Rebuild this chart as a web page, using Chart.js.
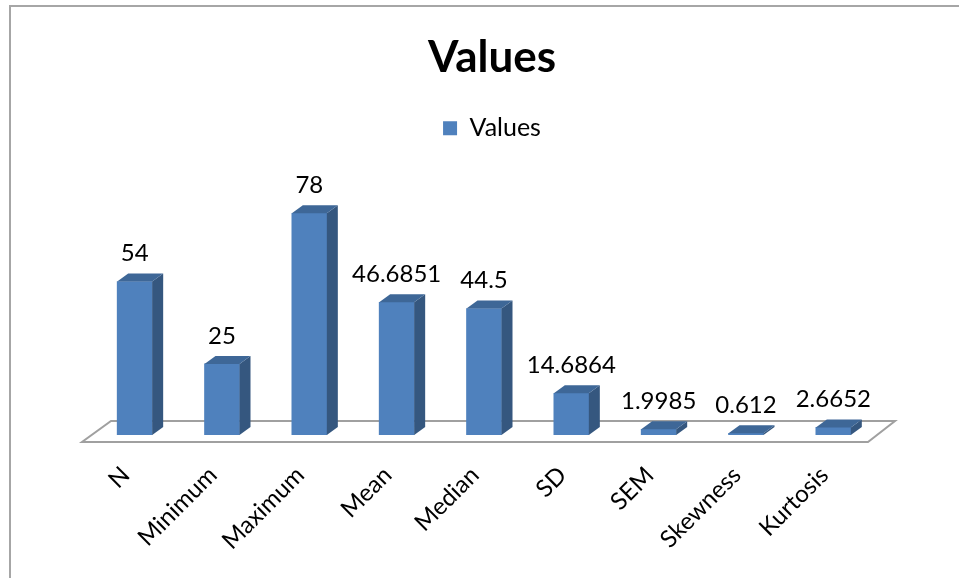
<!DOCTYPE html>
<html>
<head>
<meta charset="utf-8">
<title>Values</title>
<script src="https://cdn.jsdelivr.net/npm/chart.js@4.4.1/dist/chart.umd.min.js"></script>
<style>
  html, body { margin: 0; padding: 0; background: #fff; }
  #wrap { position: relative; width: 959px; height: 578px; }
</style>
</head>
<body>
<div id="wrap"><canvas id="chart"></canvas></div>
<script>
const categories = ["N", "Minimum", "Maximum", "Mean", "Median", "SD", "SEM", "Skewness", "Kurtosis"];
const values = [54, 25, 78, 46.6851, 44.5, 14.6864, 1.9985, 0.612, 2.6652];
const seriesName = "Values";

const FRONT = "#4f81bd";
const SIDE = "#35577f";
const TOP = "#3e6797";
const DX = 11;
const DY = 8;

// outer frame (left and top edge only show in the picture)
const frame = {
  id: "frame",
  beforeDraw(chart) {
    const c = chart.ctx;
    c.save();
    c.strokeStyle = "#a6a6a6";
    c.lineWidth = 2;
    c.beginPath();
    c.moveTo(10, 578);
    c.lineTo(10, 6);
    c.lineTo(959, 6);
    c.stroke();
    c.restore();
  },
};

// floor of the 3d plot
const floor = {
  id: "floor",
  beforeDatasetsDraw(chart) {
    const c = chart.ctx;
    const a = chart.chartArea;
    const base = chart.scales.y.getPixelForValue(0);
    c.save();
    c.strokeStyle = "#a0a0a0";
    c.lineWidth = 2;
    c.fillStyle = "#fff";
    c.beginPath();
    c.moveTo(a.left - 9, base + 7);
    c.lineTo(a.right - 9, base + 7);
    c.lineTo(a.right + 18, base - 14);
    c.lineTo(a.left + 20, base - 14);
    c.closePath();
    c.fill();
    c.stroke();
    c.restore();
  },
};

// side + top faces and value labels
const bars3d = {
  id: "bars3d",
  afterDatasetsDraw(chart) {
    const c = chart.ctx;
    const meta = chart.getDatasetMeta(0);
    c.save();
    meta.data.forEach((bar, i) => {
      const l = bar.x - bar.width / 2;
      const r = bar.x + bar.width / 2;
      const t = bar.y;
      const b = bar.base;
      c.fillStyle = SIDE;
      c.beginPath();
      c.moveTo(r, t);
      c.lineTo(r + DX, t - DY);
      c.lineTo(r + DX, b - DY);
      c.lineTo(r, b);
      c.closePath();
      c.fill();
      c.fillStyle = TOP;
      c.beginPath();
      c.moveTo(l, t);
      c.lineTo(l + DX, t - DY);
      c.lineTo(r + DX, t - DY);
      c.lineTo(r, t);
      c.closePath();
      c.fill();

      c.fillStyle = "#000";
      c.font = "24px Lato";
      c.textAlign = "center";
      c.textBaseline = "middle";
      c.fillText(String(values[i]), bar.x, t - 28);
    });
    c.restore();
  },
};

const ctx = document.getElementById("chart").getContext("2d");
const chart = new Chart(ctx, {
  type: "bar",
  data: {
    labels: categories,
    datasets: [
      {
        label: seriesName,
        data: values,
        backgroundColor: FRONT,
        borderWidth: 0,
        barThickness: 35,
      },
    ],
  },
  options: {
    responsive: true,
    maintainAspectRatio: false,
    animation: false,
    layout: { padding: { top: 0, left: 91, right: 66, bottom: 0 } },
    plugins: {
      title: {
        display: true,
        text: "Values",
        color: "#000",
        font: { family: "Lato", size: 44, weight: "bold" },
        padding: { top: 31, bottom: 22 },
      },
      legend: {
        display: true,
        position: "top",
        labels: {
          color: "#000",
          font: { family: "Lato", size: 25 },
          boxWidth: 14,
          boxHeight: 14,
        },
      },
      tooltip: { enabled: false },
    },
    scales: {
      x: {
        grid: { display: false },
        border: { display: false },
        ticks: {
          color: "#000",
          font: { family: "Lato", size: 24 },
          maxRotation: 45,
          minRotation: 45,
          padding: 18,
          labelOffset: -9,
        },
        afterFit(axis) {
          axis.height = 143;
        },
      },
      y: {
        position: "right",
        min: 0,
        max: 100,
        grid: { display: false },
        border: { display: false },
        ticks: { display: false },
        // empty strip so the plot keeps its place while title/legend centre a bit further right
        afterFit(axis) {
          axis.width = 16;
        },
      },
    },
  },
  plugins: [frame, floor, bars3d],
});
</script>
</body>
</html>
